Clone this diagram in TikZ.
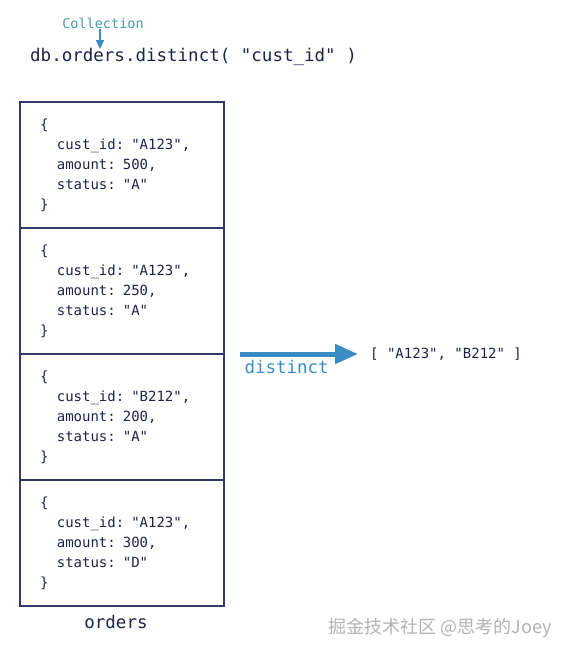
\documentclass[tikz,border=0pt]{standalone}
\usepackage{fontspec}
\setmonofont{DejaVu Sans Mono}
\newfontfamily\cjkfont{Noto Sans CJK SC}
\usetikzlibrary{arrows.meta, positioning}
\definecolor{mongonavy}{RGB}{30,36,68}
\definecolor{mongoframe}{RGB}{52,58,104}
\definecolor{mongoblue}{RGB}{58,141,196}
\definecolor{mongoteal}{RGB}{74,154,176}
\tikzset{
  bigcode/.style={font=\ttfamily\fontsize{17.5}{20}\selectfont, text=mongonavy, inner sep=0pt},
  smallcode/.style={font=\ttfamily\fontsize{14}{20}\selectfont, text=mongonavy, inner sep=0pt},
  docblock/.style={
    rectangle, draw=mongoframe, line width=1.2pt, outer sep=0pt,
    minimum width=204pt, minimum height=126pt,
    inner xsep=20pt, text width=164pt, align=left,
    font=\ttfamily\fontsize{14}{20}\selectfont, text=mongonavy
  },
  bigarrow/.style={-{Triangle[length=23pt,width=19pt]}, line width=5pt, color=mongoblue},
  collarrow/.style={-{Triangle[length=9pt,width=8pt]}, line width=1.2pt, color=mongoblue}
}
\newcommand{\orderdoc}[3]{\{\\\phantom{xx}cust\_id: "#1",\\\phantom{xx}amount: #2,\\\phantom{xx}status: "#3"\\\}}

\begin{document}
\begin{tikzpicture}[x=1pt, y=-1pt, node distance=0pt]
  \useasboundingbox (0,0) rectangle (569,655);

  % Query line
  \node[smallcode, text=mongoteal, font=\ttfamily\fontsize{13.5}{14}\selectfont] (coll) at (103,23) {Collection};
  \node[bigcode, anchor=west] (query) at (30,57) {db.orders.distinct( "cust\_id" )};
  \draw[collarrow] ([xshift=-3pt,yshift=-1pt]coll.south) -- ([xshift=-3pt,yshift=-1pt]coll.south |- query.north);

  % Collection documents
  \node[docblock, anchor=north west] (doca) at (20,102) {\orderdoc{A123}{500}{A}};
  \node[docblock, below=of doca] (docb) {\orderdoc{A123}{250}{A}};
  \node[docblock, below=of docb] (docc) {\orderdoc{B212}{200}{A}};
  \node[docblock, below=of docc] (docd) {\orderdoc{A123}{300}{D}};
  \node[bigcode, below=9pt of docd, xshift=-6pt] (orders) {orders};

  % Result
  \node[smallcode, anchor=west] (result) at (370,354) {[ "A123", "B212" ]};
  \draw[bigarrow, shorten >=12pt] ([xshift=16pt]docb.south east) -- (result.west)
    node[pos=0, anchor=north west, xshift=2pt, yshift=-4pt, bigcode, text=mongoblue] {distinct};

  % Watermark
  \node[anchor=east, inner sep=0pt, text=gray!60, font=\cjkfont\fontsize{18}{18}\selectfont] (mark) at (552,628) {掘金技术社区 @思考的Joey};
\end{tikzpicture}
\end{document}
